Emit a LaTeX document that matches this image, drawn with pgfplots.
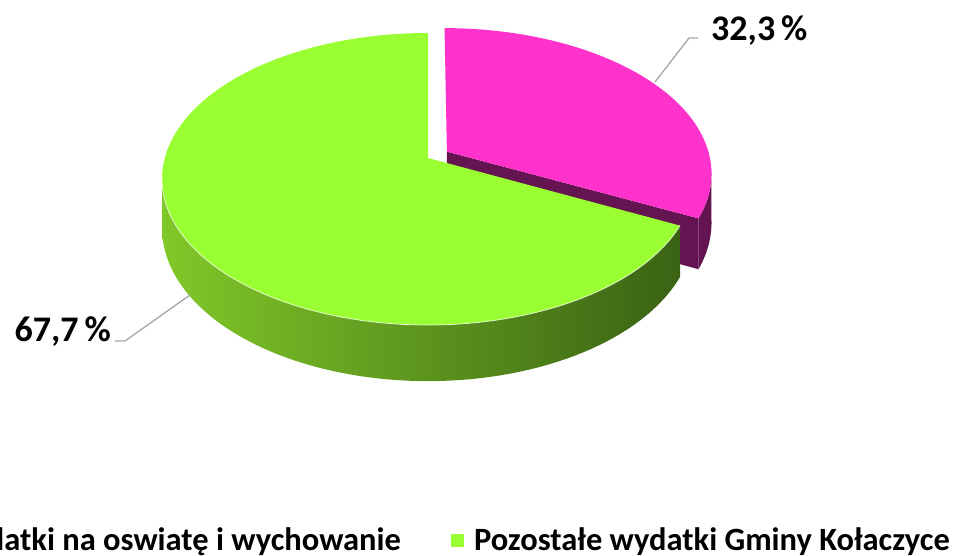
\documentclass[border=0pt]{standalone}
\usepackage{pgfplots}
\pgfplotsset{compat=1.18}
\usepackage{fontspec}
\setmainfont{Carlito}
\definecolor{pinktop}{RGB}{255,51,204}
\definecolor{pinkside}{RGB}{100,20,80}
\definecolor{greentop}{RGB}{153,255,51}
\definecolor{greenL}{RGB}{128,200,40}
\definecolor{greenM}{RGB}{85,140,30}
\definecolor{greenR}{RGB}{58,98,20}
\definecolor{leader}{RGB}{166,166,166}

% shares (%)
\def\valA{32.3}% Wydatki na oswiatę i wychowanie
\def\valB{67.7}% Pozostałe wydatki Gminy Kołaczyce

\pgfkeys{/pgf/declare function={
  PX(\X,\Z)=428+263.2*\X/(1-0.144*\Z);
  PY(\Z,\H)=158+(143*\Z+\H)/(1-0.144*\Z);
  TT(\s,\ta,\tb)=(\s<=1.025) ? (\ta+min(\s,1)*(\tb-\ta)) : (\tb-max(\s-1.05,0)/0.95*(\tb-\ta));
  HH(\s,\h)=(\s<=1.025) ? 0 : \h;
}}

\pgfmathsetmacro\angA{\valA*3.6}
\pgfmathsetmacro\midA{\angA/2}
\pgfmathsetmacro\ox{0.085*sin(\midA)}
\pgfmathsetmacro\oz{-0.085*cos(\midA)}
\pgfmathsetmacro\pax{PX(\ox,\oz)}
\pgfmathsetmacro\pay{PY(\oz,0)}
\pgfmathsetmacro\payb{PY(\oz,48)}
\pgfmathsetmacro\pcx{PX(sin(\angA)+\ox,-cos(\angA)+\oz)}
\pgfmathsetmacro\pcy{PY(-cos(\angA)+\oz,0)}
\pgfmathsetmacro\pcyb{PY(-cos(\angA)+\oz,48)}
\def\hgt{48}

\begin{document}
\begin{tikzpicture}
\useasboundingbox (0,0) rectangle (955pt,555pt);
\clip (0,0) rectangle (955pt,555pt);
\begin{axis}[
  at={(0,0)}, anchor=south west,
  width=955pt, height=555pt, scale only axis,
  xmin=0, xmax=955, ymin=0, ymax=555, y dir=reverse,
  axis lines=none, clip=false,
  legend image code/.code={\fill[#1, draw=none] (0pt,-6.5pt) rectangle (13pt,6.5pt); \path (23pt,0pt);},
  legend style={at={(axis description cs:0.99476,0.027)}, anchor=east,
    draw=none, fill=none, legend columns=2, inner sep=0pt,
    nodes={inner sep=0pt},
    font=\fontsize{32.5}{34}\selectfont\bfseries,
    /tikz/every even column/.append style={column sep=50pt}},
]
% pink slice (exploded)
\addplot[fill=pinkside, draw=none, forget plot]
  coordinates {(\pax,\pay) (\pcx,\pcy) (\pcx,\pcyb) (\pax,\payb)} -- cycle;
\addplot[fill=pinkside, draw=none, forget plot, domain=0:2, samples=121, variable=\s]
  ({PX(sin(TT(\s,97,\angA))+\ox,-cos(TT(\s,97,\angA))+\oz)},
   {PY(-cos(TT(\s,97,\angA))+\oz,HH(\s,\hgt))}) -- cycle;
\addplot[fill=pinktop, draw=none, forget plot, domain=0:\angA, samples=90, variable=\t]
  ({PX(sin(\t)+\ox,-cos(\t)+\oz)},{PY(-cos(\t)+\oz,0)}) -- (axis cs:\pax,\pay) -- cycle;
% green slice
\addplot[left color=greenL, middle color=greenM, right color=greenR, draw=none, forget plot,
  domain=0:2, samples=161, variable=\s]
  ({PX(sin(TT(\s,\angA,261.7)),-cos(TT(\s,\angA,261.7)))},
   {PY(-cos(TT(\s,\angA,261.7)),HH(\s,\hgt))}) -- cycle;
\addplot[fill=greentop, draw=none, forget plot, domain=\angA:360, samples=160, variable=\t]
  ({PX(sin(\t),-cos(\t))},{PY(-cos(\t),0)}) -- (axis cs:428,158) -- cycle;
\addplot[draw=white, opacity=0.7, line width=0.8pt, forget plot, domain=\angA:263, samples=100, variable=\t]
  ({PX(sin(\t),-cos(\t))},{PY(-cos(\t),0)});
% leader lines
\addplot[leader, line width=1.3pt, forget plot] coordinates {(655,82) (689,38) (698,38)};
\addplot[leader, line width=1.3pt, forget plot] coordinates {(190,295) (125,341) (115,341)};
\node[anchor=base west, font=\fontsize{36}{38}\selectfont\bfseries, inner sep=0pt]
  at (axis cs:711,40) {32,3\,\%};
\node[anchor=base east, font=\fontsize{36}{38}\selectfont\bfseries, inner sep=0pt]
  at (axis cs:111,341) {67,7\,\%};
% legend
\addlegendimage{fill=pinktop}
\addlegendentry{Wydatki na oswiatę i wychowanie}
\addlegendimage{fill=greentop}
\addlegendentry{Pozostałe wydatki Gminy Kołaczyce}
\end{axis}
\end{tikzpicture}
\end{document}
